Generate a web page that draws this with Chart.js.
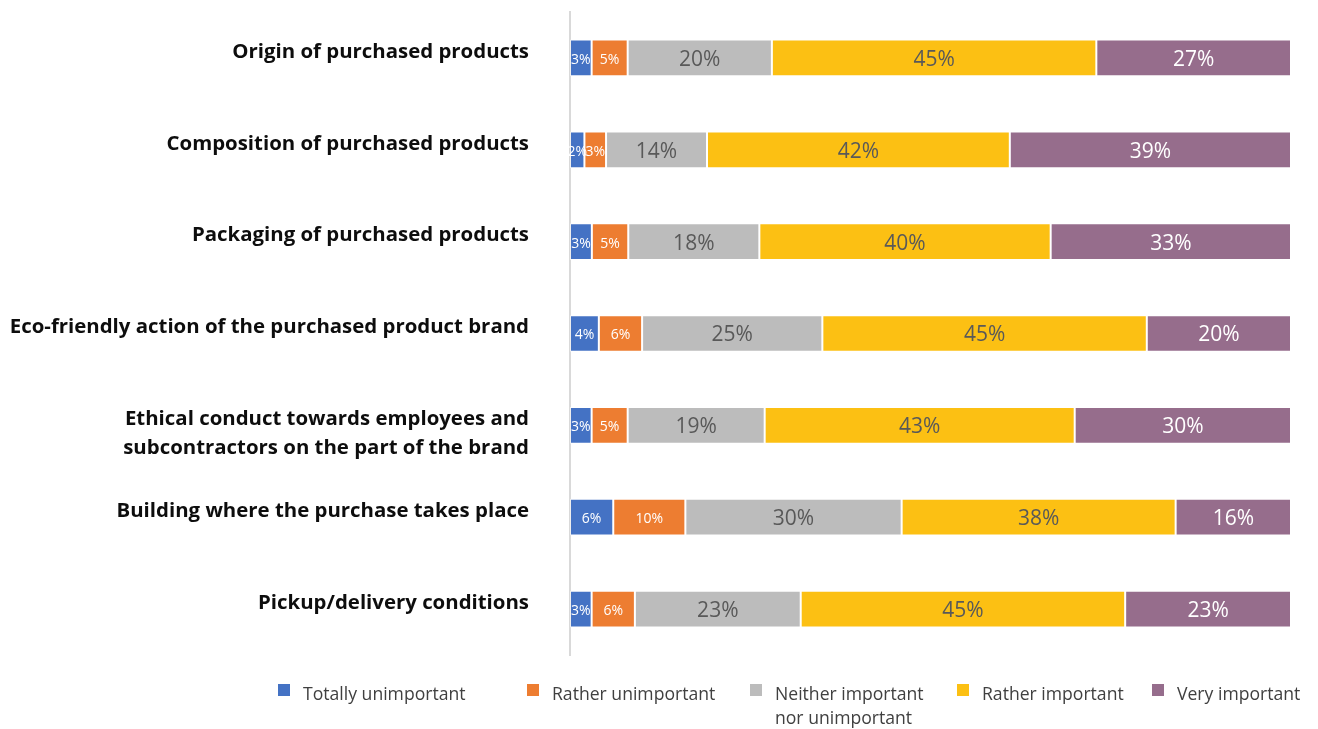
<!DOCTYPE html>
<html>
<head>
<meta charset="utf-8">
<title>Importance of purchase criteria</title>
<script src="https://cdn.jsdelivr.net/npm/chart.js@4"></script>
<style>
  html, body { margin: 0; padding: 0; background: #fff; }
  #wrap { position: relative; width: 1318px; height: 729px; }
  #importanceChart { display: block; }
  .legend-item { position: absolute; top: 681px; font: 17.6px "Open Sans", sans-serif; color: #404040; line-height: 24px; white-space: pre-line; }
  .legend-box { position: absolute; left: 0; top: 3px; width: 12px; height: 12px; }
  .legend-text { margin-left: 25px; }
</style>
</head>
<body>
<div id="wrap">
  <canvas id="importanceChart" width="1318" height="729"></canvas>
  <div id="legend"></div>
</div>
<script>
// the blank first line drops the two-line label a little lower than the single-line ones
const categories = [
  'Origin of purchased products',
  'Composition of purchased products',
  'Packaging of purchased products',
  'Eco-friendly action of the purchased product brand',
  ['', 'Ethical conduct towards employees and', 'subcontractors on the part of the brand'],
  'Building where the purchase takes place',
  'Pickup/delivery conditions'
];

const seriesNames = [
  'Totally unimportant',
  'Rather unimportant',
  'Neither important\nnor unimportant',
  'Rather important',
  'Very important'
];

// percentages per category, top to bottom
const totallyUnimportant = [3, 2, 3, 4, 3, 6, 3];
const ratherUnimportant = [5, 3, 5, 6, 5, 10, 6];
const neitherImportant = [20, 14, 18, 25, 19, 30, 23];
const ratherImportant = [45, 42, 40, 45, 43, 38, 45];
const veryImportant = [27, 39, 33, 20, 30, 16, 23];

const seriesValues = [totallyUnimportant, ratherUnimportant, neitherImportant, ratherImportant, veryImportant];
const seriesColors = ['#4472C4', '#ED7D31', '#BCBCBC', '#FCC013', '#966D8C'];
const labelColors = ['#ffffff', '#ffffff', '#595959', '#595959', '#ffffff'];
const labelSizes = [14, 14, 21, 21, 21];
const legendLeft = [278, 527, 750, 957, 1152];

// each row is drawn as a share of its own total (100% stacked)
const rowTotals = categories.map((c, j) => seriesValues.reduce((s, vals) => s + vals[j], 0));

const datasets = seriesNames.map((name, i) => ({
  label: name,
  data: seriesValues[i].map((v, j) => v / rowTotals[j] * 100),
  rawValues: seriesValues[i],
  backgroundColor: seriesColors[i],
  borderColor: 'rgba(255,255,255,0.55)',
  borderWidth: 1,
  borderSkipped: false,
  labelColor: labelColors[i],
  labelSize: labelSizes[i],
  barPercentage: 0.8,
  categoryPercentage: 0.5
}));

const valueLabels = {
  id: 'valueLabels',
  afterDatasetsDraw(chart) {
    const ctx = chart.ctx;
    ctx.save();
    ctx.textAlign = 'center';
    ctx.textBaseline = 'middle';
    chart.data.datasets.forEach((ds, i) => {
      const meta = chart.getDatasetMeta(i);
      ctx.font = ds.labelSize + 'px "Open Sans", sans-serif';
      ctx.fillStyle = ds.labelColor;
      meta.data.forEach((bar, j) => {
        const p = bar.getProps(['x', 'y', 'base'], true);
        ctx.fillText(ds.rawValues[j] + '%', (p.x + p.base) / 2, p.y + 2);
      });
    });
    ctx.restore();
  }
};

const chart = new Chart(document.getElementById('importanceChart'), {
  type: 'bar',
  data: { labels: categories, datasets: datasets },
  plugins: [valueLabels],
  options: {
    indexAxis: 'y',
    responsive: false,
    animation: false,
    layout: { padding: { top: 12, right: 27, bottom: 74, left: 0 } },
    plugins: {
      legend: { display: false },
      tooltip: { enabled: false }
    },
    scales: {
      x: { stacked: true, min: 0, max: 100, display: false },
      y: {
        stacked: true,
        grid: { display: false, drawTicks: false },
        border: { display: true, color: '#D9D9D9', width: 2 },
        ticks: {
          padding: 41,
          labelOffset: -6,
          color: '#0D0D0D',
          font: { family: '"Open Sans", sans-serif', size: 20.4, weight: 'bold', lineHeight: 1.42 }
        },
        afterFit(scale) {
          // tick padding is only meant to push labels left, not to add top/bottom room
          scale.width = 570;
          scale.paddingTop = 0;
          scale.paddingBottom = 0;
        }
      }
    }
  }
});

// legend below the plot, built from the datasets
const legendEl = document.getElementById('legend');
chart.data.datasets.forEach((ds, i) => {
  const item = document.createElement('div');
  item.className = 'legend-item';
  item.style.left = legendLeft[i] + 'px';
  const box = document.createElement('span');
  box.className = 'legend-box';
  box.style.background = ds.backgroundColor;
  const text = document.createElement('div');
  text.className = 'legend-text';
  text.textContent = ds.label;
  item.appendChild(box);
  item.appendChild(text);
  legendEl.appendChild(item);
});
</script>
</body>
</html>
